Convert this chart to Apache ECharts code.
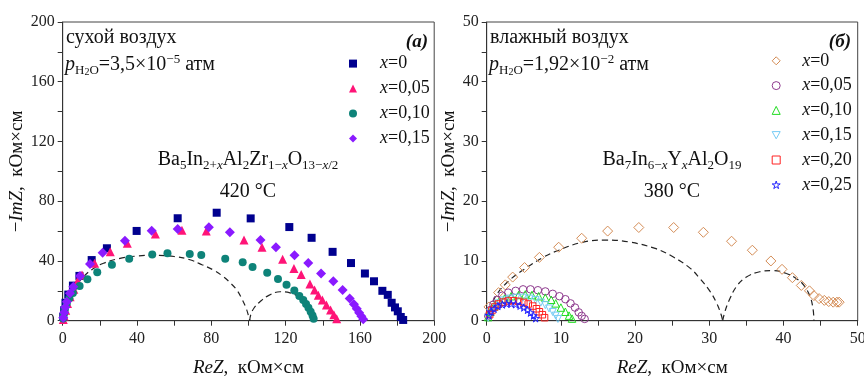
<!DOCTYPE html>
<html><head><meta charset="utf-8">
<script src="https://cdn.jsdelivr.net/npm/echarts@6/dist/echarts.min.js"></script>
<style>html,body{margin:0;padding:0;background:#fff}#c{width:864px;height:376px}</style>
</head><body><div id="c"></div>
<script>
// ---------- Data (a): dry air, 420 °C ----------
const dryLabels = ['x=0', 'x=0,05', 'x=0,10', 'x=0,15'];
const dryX000 = [[0.3,2.5],[0.8,7],[1.5,12],[3,17.5],[5.5,23.5],[9,30],[15.6,40.6],[23.8,48.5],[39.8,60.1],[61.9,68.6],[82.9,72.3],[101.2,68.5],[122,62.7],[134,55.5],[145.3,46.1],[155.2,38.6],[162.7,31.6],[167.6,26.4],[172.1,20],[175,17.3],[177.1,12],[178.9,8.9],[180.4,6.3],[182,2.5],[183.3,0.5]];
const dryX005 = [[0.3,0.8],[0.8,3.2],[1.6,7],[2.6,11.5],[4,16],[6,21],[8,26.5],[10.4,30.6],[17.2,38.5],[25.6,46.1],[34.8,51.8],[49.9,58],[64.2,60.5],[77.3,60.1],[97.6,54],[107.3,49.1],[118.4,41.1],[124.5,35],[128.4,31],[133.1,24.5],[135.6,20.5],[137.6,17],[139.8,13.8],[142,10.5],[144.2,7.2],[146,4],[147.5,1.3]];
const dryX010 = [[0.2,1.5],[0.6,4.5],[1.2,8],[2.2,11.5],[3.6,15],[5.5,18.5],[9.1,23.2],[13.3,27.7],[18.6,32.5],[26.5,37.5],[35.8,41.5],[48.2,44.4],[56.4,45.1],[68.4,44.6],[74.6,44],[87.5,41.5],[96.9,39.1],[102.2,35.9],[110.1,32.1],[115.9,27.9],[120.5,24.1],[124.7,20.3],[127.4,16.5],[129.5,13.8],[131,11.2],[132.3,8.6],[133.5,6],[134.5,3.5],[135.1,1.3]];
const dryX015 = [[0.3,2],[0.8,5.5],[1.4,9],[2.2,12.7],[3.9,18.3],[5.7,22.8],[9.3,29.9],[14.7,37.9],[21.5,45.5],[33.5,53.6],[47.9,60.3],[61.9,61.4],[78.7,62.5],[90,59.2],[106.5,54],[114.8,49.1],[124.8,43.8],[132.2,38.7],[139.1,31.6],[145.7,26.4],[150.7,20.5],[154.5,14.8],[156.8,11],[158.3,8],[159.6,5.4],[160.8,3],[161.8,0.9]];
const dryArc1 = [[0,0],[0.8,6],[2.5,12.5],[5,19],[8,24.5],[11,29.2],[16,34.5],[22,38.5],[30,41.5],[40,43.3],[50,43.8],[60,43],[68,41],[75,37.5],[81,34],[86.5,29.5],[90.5,25],[93.7,20.6],[96.5,14.5],[98.7,8.5],[100,3.5],[100.7,0]];
const dryArc2 = [[100.7,0],[101.2,3.8],[103,8.5],[106.2,12.7],[110.7,16.8],[117,19.4],[122.4,18.6],[126.5,16.5],[129.5,13.5],[131.5,10],[133,5],[133.5,0]];

// ---------- Data (б): wet air, 380 °C ----------
const wetLabels = ['x=0', 'x=0,05', 'x=0,10', 'x=0,15', 'x=0,20', 'x=0,25'];
const wetX000 = [[0.3,2.3],[1.6,4.7],[2.5,6],[3.5,7.3],[5.1,8.9],[7.1,10.6],[9.7,12.3],[12.8,13.8],[16.3,15],[20.5,15.6],[25.2,15.6],[29.2,14.8],[33,13.3],[35.8,11.8],[38.3,10],[39.8,8.6],[41.2,7.2],[42.4,5.9],[43.5,5],[44.1,4.2],[44.8,3.7],[45.5,3.4],[46.1,3.2],[46.7,3.1],[47.2,3.1],[47.5,3.1]];
const wetX005 = [[0.2,0.8],[0.5,1.8],[0.9,2.7],[1.4,3.5],[2.1,4.2],[2.9,4.7],[3.9,5],[4.9,5.25],[5.9,5.25],[6.9,5.1],[7.9,4.9],[8.9,4.5],[9.8,4.1],[10.6,3.6],[11.3,2.9],[11.9,2.2],[12.4,1.4],[12.8,0.8],[13.2,0.3]];
const wetX010 = [[0.2,0.6],[0.5,1.5],[1,2.4],[1.6,3.1],[2.4,3.7],[3.3,4.1],[4.3,4.3],[5.2,4.4],[6.1,4.3],[7,4.1],[7.9,3.85],[8.7,3.5],[9.3,2.9],[10,2.2],[10.6,1.5],[11.1,0.85],[11.5,0.35]];
const wetX015 = [[0.2,0.5],[0.5,1.4],[1,2.2],[1.6,2.9],[2.3,3.4],[3.1,3.7],[4,3.85],[4.9,3.85],[5.8,3.7],[6.6,3.45],[7.3,3.05],[7.9,2.6],[8.4,2.05],[8.9,1.45],[9.3,0.85],[9.6,0.3]];
const wetX020 = [[0.4,1],[0.7,1.7],[1.1,2.3],[1.6,2.8],[2.2,3.1],[2.9,3.3],[3.6,3.35],[4.3,3.25],[5,3.05],[5.6,2.8],[6.2,2.45],[6.7,2],[7.1,1.5],[7.5,1],[7.8,0.5]];
const wetX025 = [[0.3,0.9],[0.6,1.5],[1,2],[1.5,2.45],[2.1,2.7],[2.7,2.85],[3.3,2.85],[3.9,2.75],[4.5,2.5],[5,2.2],[5.5,1.8],[5.9,1.35],[6.3,0.85],[6.6,0.4]];
const wetArc1 = [[0,0],[0.5,2],[1.3,4.3],[3.1,6.8],[5.4,8.9],[7.6,10.6],[9.7,11.8],[12.8,13.1],[16,13.5],[19.1,13.2],[22.7,12.1],[25.1,10.7],[27.4,8.8],[28.7,7.1],[30.1,4.9],[31,2.9],[31.6,1],[31.8,0]];
const wetArc2 = [[31.8,0],[32.1,1.5],[32.6,3.2],[33.7,5.8],[35,7.3],[36.8,8.2],[38.6,8.4],[40.4,7.9],[41.8,7],[42.7,6],[43.6,4],[44,1.8],[44.1,0]];

const FF = '"Liberation Serif", "Times New Roman", serif';
const TXT = '#111';
const STAR = 'path://M50,0 L61,35 L98,35 L68,57 L79,91 L50,70 L21,91 L32,57 L2,35 L39,35 Z';
const INVTRI = 'path://M0,0 L10,0 L5,9 Z';

const chart = echarts.init(document.getElementById('c'), null, {renderer: 'canvas'});

function richSet(size) {
  return {
    n: {fontFamily: FF, fontSize: size, color: TXT, lineHeight: 24},
    i: {fontFamily: FF, fontSize: size, color: TXT, fontStyle: 'italic', lineHeight: 24},
    sub: {fontFamily: FF, fontSize: 13, color: TXT, lineHeight: 12, verticalAlign: 'bottom'},
    subi: {fontFamily: FF, fontSize: 13, color: TXT, fontStyle: 'italic', lineHeight: 12, verticalAlign: 'bottom'},
    sub2: {fontFamily: FF, fontSize: 10, color: TXT, lineHeight: 8, verticalAlign: 'bottom'},
    sup: {fontFamily: FF, fontSize: 13, color: TXT, lineHeight: 13, verticalAlign: 'top'},
    sp: {width: 18}
  };
}

function xAxisCfg(grid, max, interval, labelEvery) {
  return {
    gridIndex: grid, type: 'value', min: 0, max: max, interval: interval,
    axisLine: {show: true, onZero: false, lineStyle: {color: '#333', width: 1}},
    axisTick: {show: true, inside: false, length: 5, lineStyle: {color: '#333'}},
    axisLabel: {fontFamily: FF, fontSize: 16, color: '#222', margin: 10,
      formatter: v => (Math.round(v) % labelEvery === 0 ? String(v) : '')},
    splitLine: {show: false},
    name: '{i|ReZ}{n|,  кОм×см}', nameLocation: 'middle', nameGap: 35,
    nameTextStyle: {rich: richSet(19)}
  };
}
function yAxisCfg(grid, max, interval, labelEvery, gap) {
  return {
    gridIndex: grid, type: 'value', min: 0, max: max, interval: interval,
    axisLine: {show: true, onZero: false, lineStyle: {color: '#333', width: 1}},
    axisTick: {show: true, inside: false, length: 5, lineStyle: {color: '#333'}},
    axisLabel: {fontFamily: FF, fontSize: 16, color: '#222', margin: 8,
      formatter: v => (Math.round(v) % labelEvery === 0 ? String(v) : '')},
    splitLine: {show: false},
    name: '{n|−}{i|ImZ}{n|,  кОм×см}', nameLocation: 'middle', nameGap: gap, nameRotate: 90,
    nameTextStyle: {rich: richSet(19)}
  };
}

function legendFmt(name) {
  const t = name.split('|')[1];
  return '{sp|}{i|x}{n|' + t.slice(1) + '}';
}
const legRich = {
  sp: {width: 18},
  i: {fontFamily: FF, fontSize: 18, fontStyle: 'italic', color: TXT, lineHeight: 20},
  n: {fontFamily: FF, fontSize: 18, color: TXT, lineHeight: 20}
};

const dryColors = ['#00008f', '#ff1477', '#0e8379', '#8a1aff'];
const drySymbols = ['rect', 'triangle', 'circle', 'diamond'];
const drySizes = [8, 9, 8, 10];
const dryData = [dryX000, dryX005, dryX010, dryX015];

const wetColors = ['#d48c55', '#8e3a8e', '#22dd22', '#77ccf5', '#ff2222', '#2222ff'];
const wetSymbols = ['diamond', 'circle', 'triangle', INVTRI, 'rect', STAR];
const wetSizes = [10, 7.5, 7.5, 7, 6.5, 7.5];
const wetData = [wetX000, wetX005, wetX010, wetX015, wetX020, wetX025];

const series = [];
function arc(data, xi) {
  return {type: 'line', name: 'arc', xAxisIndex: xi, yAxisIndex: xi, data: data, smooth: 0.4,
    showSymbol: false, symbol: 'none', silent: true, z: 1,
    lineStyle: {color: '#222', width: 1.2, type: [6, 4]}};
}
series.push(arc(dryArc1, 0), arc(dryArc2, 0), arc(wetArc1, 1), arc(wetArc2, 1));
dryData.forEach((d, k) => series.push({
  type: 'scatter', name: 'a|' + dryLabels[k], xAxisIndex: 0, yAxisIndex: 0, data: d,
  symbol: drySymbols[k], symbolSize: drySizes[k], z: 3,
  itemStyle: {color: dryColors[k], opacity: 1}
}));
wetData.forEach((d, k) => series.push({
  type: 'scatter', name: 'b|' + wetLabels[k], xAxisIndex: 1, yAxisIndex: 1, data: d,
  symbol: wetSymbols[k], symbolSize: wetSizes[k], z: 3,
  itemStyle: {color: 'rgba(255,255,255,0)', borderColor: wetColors[k], borderWidth: 1, opacity: 1}
}));

function tx(x, y, text, align, size, extra) {
  return {type: 'text', z: 10, style: Object.assign({x: x, y: y, text: text, align: align || 'left',
    verticalAlign: 'middle', fontFamily: FF, fontSize: size || 20, fill: TXT, rich: richSet(size || 20)}, extra || {})};
}

chart.setOption({
  animation: false,
  backgroundColor: '#fff',
  grid: [
    {left: 62.7, top: 22, width: 371.5, height: 298.7, show: true, borderColor: '#444', borderWidth: 1,
     backgroundColor: 'transparent', containLabel: false, outerBoundsMode: 'none'},
    {left: 486.7, top: 22, width: 371, height: 298.7, show: true, borderColor: '#444', borderWidth: 1,
     backgroundColor: 'transparent', containLabel: false, outerBoundsMode: 'none'}
  ],
  xAxis: [xAxisCfg(0, 200, 20, 40), xAxisCfg(1, 50, 5, 10)],
  yAxis: [yAxisCfg(0, 200, 20, 40, 34), yAxisCfg(1, 50, 5, 10, 25)],
  legend: [
    {data: dryLabels.map(l => 'a|' + l), orient: 'vertical', left: 344, top: 49.6, itemGap: 7,
     itemWidth: 8, itemHeight: 8, selectedMode: false, formatter: legendFmt,
     textStyle: {rich: legRich}},
    {data: wetLabels.map(l => 'b|' + l), orient: 'vertical', left: 766.7, top: 46.8, itemGap: 6.8,
     itemWidth: 8, itemHeight: 8, selectedMode: false, formatter: legendFmt,
     itemStyle: {borderWidth: 1},
     textStyle: {rich: Object.assign({}, legRich, {sp: {width: 17}})}}
  ],
  graphic: [
    tx(66, 38, 'сухой воздух'),
    tx(65, 65, '{i|p}{sub|H}{sub2|2}{sub|O}{n|=3,5×10}{sup|−5}{n| атм}'),
    tx(428, 42, '(a)', 'right', 19, {fontStyle: 'italic', fontWeight: 'bold'}),
    tx(248, 160, '{n|Ba}{sub|5}{n|In}{sub|2+}{subi|x}{n|Al}{sub|2}{n|Zr}{sub|1−}{subi|x}{n|O}{sub|13−}{subi|x}{sub|/2}', 'center'),
    tx(248, 192, '420 °C', 'center'),
    tx(490, 38, 'влажный воздух'),
    tx(489, 65, '{i|p}{sub|H}{sub2|2}{sub|O}{n|=1,92×10}{sup|−2}{n| атм}'),
    tx(851, 42, '(б)', 'right', 19, {fontStyle: 'italic', fontWeight: 'bold'}),
    tx(672, 160, '{n|Ba}{sub|7}{n|In}{sub|6−}{subi|x}{n|Y}{subi|x}{n|Al}{sub|2}{n|O}{sub|19}', 'center'),
    tx(672, 192, '380 °C', 'center')
  ],
  series: series
});
</script></body></html>
